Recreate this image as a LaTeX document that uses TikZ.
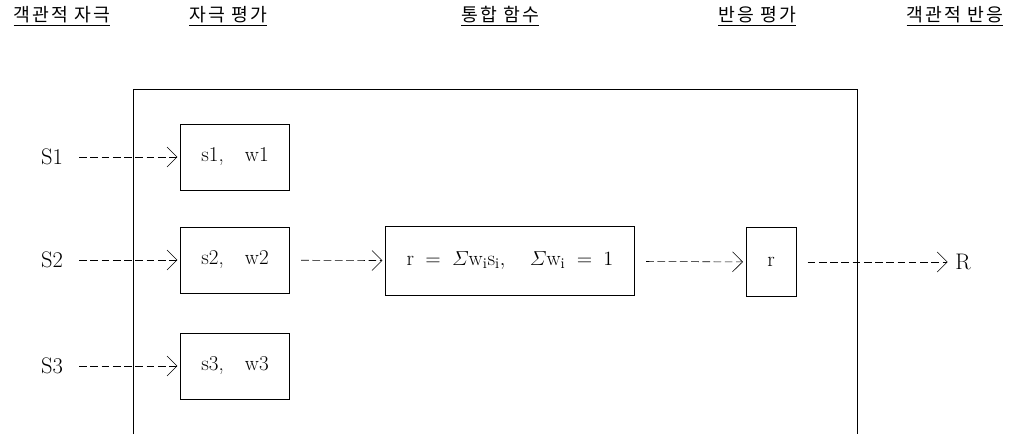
\documentclass[tikz,border=0pt]{standalone}
\usepackage{fontspec}
\usepackage{amsmath}
\usepackage{tikz}
\usetikzlibrary{arrows.meta,positioning}
\newfontfamily\krfont[LetterSpace=12]{Noto Sans CJK KR}

\tikzset{
  evalbox/.style={draw, rectangle, minimum width=2.725cm, minimum height=1.65cm, font=\fontsize{15}{17}\selectfont},
  headtext/.style={font=\krfont\fontsize{13}{15}\selectfont},
  stimtext/.style={font=\fontsize{16}{18}\selectfont},
  flow/.style={dash pattern=on 5.5pt off 2.5pt, -{Straight Barb[length=2.5mm,width=5mm]}, shorten >=2pt, shorten <=8pt},
}

\begin{document}
\begin{tikzpicture}
  \useasboundingbox (0,0) rectangle (25.575,10.85);

  % headings
  \node[headtext] (hobjs) at (1.55,10.45) {\underline{객관적 자극}};
  \node[headtext] (hevals) at (5.7,10.45) {\underline{자극 평가}};
  \node[headtext] (hinteg) at (12.5,10.45) {\underline{통합 함수}};
  \node[headtext] (hevalr) at (18.925,10.45) {\underline{반응 평가}};
  \node[headtext] (hobjr) at (23.875,10.45) {\underline{객관적 반응}};

  % frame
  \coordinate (fbl) at (3.325,0);
  \coordinate (ftl) at (3.325,8.625);
  \coordinate (ftr) at (21.425,8.625);
  \coordinate (fbr) at (21.425,0);
  \draw (fbl) -- (ftl) -- (ftr) -- (fbr);

  % stimuli
  \node[stimtext] (S1) at (1.3,6.925) {S1};
  \node[stimtext] (S2) at (1.3,4.35) {S2};
  \node[stimtext] (S3) at (1.3,1.7) {S3};

  \node[evalbox] (s1) at (5.875,6.925) {s1,\quad w1};
  \node[evalbox] (s2) at (5.875,4.35) {s2,\quad w2};
  \node[evalbox] (s3) at (5.875,1.7) {s3,\quad w3};

  \node[draw, rectangle, minimum width=6.225cm, minimum height=1.725cm, font=\fontsize{15}{17}\selectfont] (integ) at (12.75,4.325)
    {$\mathrm{r} \;=\; \varSigma \mathrm{w_i s_i},\quad \varSigma \mathrm{w_i} \;=\; 1$};
  \node[draw, rectangle, minimum width=1.25cm, minimum height=1.725cm, font=\fontsize{15}{17}\selectfont] (resp) at (19.275,4.3) {r};
  \node[stimtext] (R) at (24.075,4.3) {R};

  % connectors
  \draw[flow] (S1) -- (s1);
  \draw[flow] (S2) -- (s2);
  \draw[flow] (S3) -- (s3);
  \draw[flow] (s2) -- (integ);
  \draw[flow] (integ) -- (resp);
  \draw[flow] (resp) -- (R);
\end{tikzpicture}
\end{document}
